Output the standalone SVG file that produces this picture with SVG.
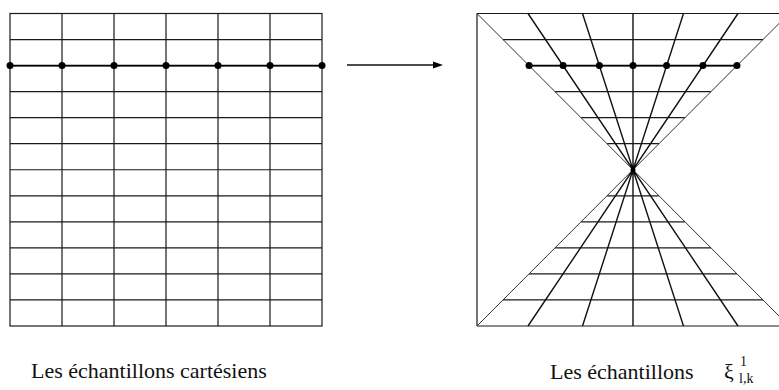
<svg xmlns="http://www.w3.org/2000/svg" width="779" height="390" viewBox="0 0 779 390">
<style>
.g{stroke:#1a1a1a;stroke-width:1.2;fill:none}
.d{stroke:#333;stroke-width:1;fill:none}
.r{stroke:#111;stroke-width:1.4;fill:none}
.dot{fill:#000}
.t{font-family:"Liberation Serif","Times New Roman",serif;font-size:22px;fill:#111}
.s{font-family:"Liberation Serif","Times New Roman",serif;font-size:14px;fill:#111}
</style>
<rect width="779" height="390" fill="#fff"/>
<g id="cartesian">
<rect class="g" x="10" y="13.5" width="312" height="312.5"/>
<path class="g" d="M62 13.5V326M114 13.5V326M166 13.5V326M218 13.5V326M270 13.5V326
M10 39.54H322M10 65.58H322M10 91.63H322M10 117.67H322M10 143.71H322M10 169.75H322M10 195.79H322M10 221.83H322M10 247.88H322M10 273.92H322M10 299.96H322"/>
<path stroke="#000" stroke-width="1.6" d="M10 65.58H322"/>
<g class="dot">
<circle cx="10" cy="65.58" r="3.5"/><circle cx="62" cy="65.58" r="3.5"/><circle cx="114" cy="65.58" r="3.5"/><circle cx="166" cy="65.58" r="3.5"/><circle cx="218" cy="65.58" r="3.5"/><circle cx="270" cy="65.58" r="3.5"/><circle cx="322" cy="65.58" r="3.5"/>
</g>
</g>
<g id="connectors">
<path stroke="#111" stroke-width="1.3" d="M347 65H436"/>
<polygon fill="#000" points="433,61.5 443,65 433,68.5"/>
</g>
<g id="pseudopolar">
<path class="g" d="M477 13.5H789M477 326H789M477 13.5V326M789 13.5V326"/>
<path class="d" d="M477 13.5L789 326M789 13.5L477 326"/>
<path class="g" d="M503.04 39.54H762.96M529.08 65.58H736.92M555.12 91.63H710.88M581.17 117.67H684.83M607.21 143.71H658.79
M607.21 195.79H658.79M581.17 221.83H684.83M555.12 247.88H710.88M529.08 273.92H736.92M503.04 299.96H762.96"/>
<path stroke="#000" stroke-width="1.6" d="M529.08 65.58H736.92"/>
<path class="r" d="M528 13.5L738 326M582.5 13.5L683.5 326M633 13.5V326M683.5 13.5L582.5 326M738 13.5L528 326"/>
<g class="dot">
<circle cx="529.08" cy="65.58" r="3.5"/><circle cx="563.1" cy="65.58" r="3.5"/><circle cx="599.4" cy="65.58" r="3.5"/><circle cx="633" cy="65.58" r="3.5"/><circle cx="666.6" cy="65.58" r="3.5"/><circle cx="702.9" cy="65.58" r="3.5"/><circle cx="736.92" cy="65.58" r="3.5"/>
<circle cx="633" cy="169.75" r="2.5"/>
</g>
</g>
<g id="labels">
<text class="t" x="31" y="378">Les échantillons cartésiens</text>
<text class="t" x="550" y="379">Les échantillons</text>
<text class="t" x="724" y="379">ξ</text>
<text class="s" x="740" y="366">1</text>
<text class="s" x="739" y="383">l,k</text>
</g>
</svg>
